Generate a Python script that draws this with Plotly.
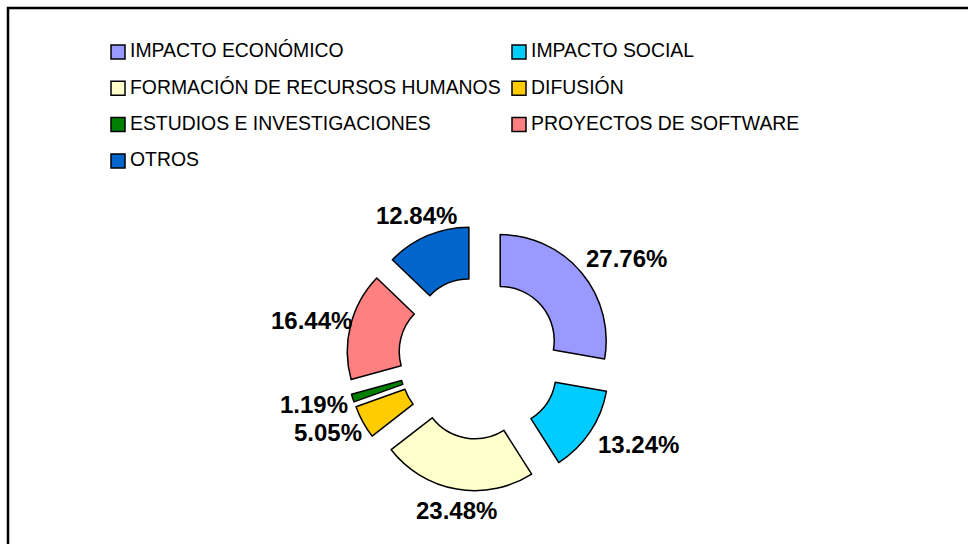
import math
import plotly.graph_objects as go

categories = ["IMPACTO ECONÓMICO", "IMPACTO SOCIAL", "FORMACIÓN DE RECURSOS HUMANOS",
              "DIFUSIÓN", "ESTUDIOS E INVESTIGACIONES", "PROYECTOS DE SOFTWARE", "OTROS"]
values = [27.76, 13.24, 23.48, 5.05, 1.19, 16.44, 12.84]
colors = ["#9999FF", "#00CCFF", "#FFFFCC", "#FFCC00", "#008000", "#FF8080", "#0066CC"]

W, H = 968, 544
FONT = "Liberation Sans, Arial, sans-serif"

def px(x):
    return x / W

def py(y):
    return 1 - y / H

# pie geometry (pixels)
cx, cy = 479.5, 358
PULL = 0.255
R_OUT = 106
half = R_OUT * (1 + PULL)

fig = go.Figure(go.Pie(
    labels=categories,
    values=values,
    sort=False,
    direction="clockwise",
    rotation=0,
    hole=0.51,
    pull=[PULL] * len(values),
    marker=dict(colors=colors, line=dict(color="black", width=1.5)),
    textinfo="none",
    hoverinfo="label+percent",
    domain=dict(x=[px(cx - half), px(cx + half)], y=[py(cy + half), py(cy - half)]),
    showlegend=False,
))

shapes = [dict(type="rect", xref="paper", yref="paper",
               x0=px(8), x1=px(990), y0=py(570), y1=py(8),
               line=dict(color="black", width=2.5), fillcolor="rgba(0,0,0,0)")]
annotations = []

# legend (two columns, row-wise order)
col_x = [111, 512]
row_y0, row_step = 52, 36.3
for i, (lab, col) in enumerate(zip(categories, colors)):
    r, c = divmod(i, 2)
    x0 = col_x[c]
    yc = row_y0 + r * row_step
    shapes.append(dict(type="rect", xref="paper", yref="paper",
                       x0=px(x0), x1=px(x0 + 14), y0=py(yc + 7), y1=py(yc - 7),
                       fillcolor=col, line=dict(color="black", width=1.5)))
    annotations.append(dict(xref="paper", yref="paper", x=px(x0 + 17), y=py(yc - 1.5),
                            text=lab, showarrow=False, xanchor="left", yanchor="middle",
                            font=dict(family=FONT, size=19.4, color="black")))

# percentage labels placed around the ring at each slice's mid angle
total = sum(values)
LAB_A, LAB_B, LAB_DX = 182, 155, 8
cum = 0.0
for v in values:
    mid = (cum + v / 2) / total * 2 * math.pi
    cum += v
    lx = cx + LAB_DX + LAB_A * math.sin(mid)
    ly = cy - LAB_B * math.cos(mid)
    annotations.append(dict(xref="paper", yref="paper", x=px(lx), y=py(ly),
                            text=f"{v / total * 100:.2f}%", showarrow=False,
                            xanchor="center", yanchor="middle",
                            font=dict(family=FONT, size=24, color="black", weight="bold")))

fig.update_layout(
    width=W, height=H,
    margin=dict(l=0, r=0, t=0, b=0),
    paper_bgcolor="white", plot_bgcolor="white",
    shapes=shapes, annotations=annotations,
)

fig.write_html("out.html", config={"displayModeBar": False},
               post_script="document.body.style.margin='0';document.body.style.overflow='hidden';")
